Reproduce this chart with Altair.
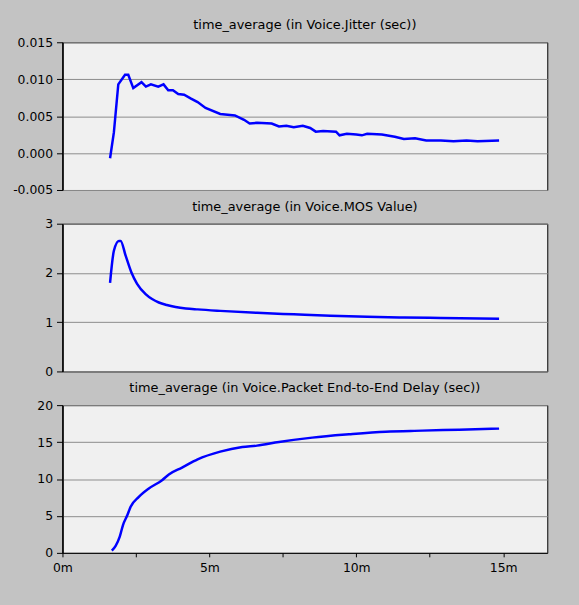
import altair as alt
import pandas as pd

# ---- data (time in minutes) ----
jitter_t = [1.62, 1.75, 1.90, 2.13, 2.24, 2.41, 2.69, 2.84, 3.01, 3.26, 3.44, 3.60, 3.76, 3.94, 4.14,
            4.36, 4.60, 4.87, 5.37, 5.87, 6.18, 6.37, 6.62, 7.12, 7.37, 7.62, 7.87, 8.18, 8.43, 8.62,
            8.87, 9.31, 9.43, 9.68, 10.0, 10.19, 10.37, 10.87, 11.31, 11.62, 12.0, 12.38, 12.88, 13.31,
            13.75, 14.13, 14.86]
jitter_v = [-0.0007, 0.0028, 0.0093, 0.0106, 0.0106, 0.0088, 0.0096, 0.0090, 0.0093, 0.0090, 0.0093,
            0.0085, 0.0085, 0.0080, 0.0079, 0.0074, 0.0069, 0.0061, 0.0053, 0.0051, 0.0045, 0.0040,
            0.0041, 0.0040, 0.0036, 0.0037, 0.0035, 0.0037, 0.0034, 0.0029, 0.0030, 0.0029, 0.0024,
            0.0026, 0.0025, 0.0024, 0.0026, 0.0025, 0.0022, 0.0019, 0.0020, 0.0017, 0.0017, 0.0016,
            0.0017, 0.0016, 0.0017]

mos_t = [1.62, 1.75, 1.92, 1.98, 2.15, 2.34, 2.54, 2.83, 3.05, 3.28, 3.55, 3.85, 4.20, 4.60, 5.37,
         6.62, 7.87, 9.12, 10.37, 11.62, 12.88, 14.86]
mos_v = [1.80, 2.45, 2.65, 2.65, 2.35, 2.02, 1.78, 1.57, 1.47, 1.40, 1.35, 1.31, 1.28, 1.26, 1.23,
         1.19, 1.16, 1.13, 1.11, 1.095, 1.085, 1.07]

delay_t = [1.68, 1.81, 1.95, 2.06, 2.21, 2.32, 2.60, 2.94, 3.39, 3.62, 4.07, 4.60, 5.37, 6.12, 6.62,
           7.37, 8.50, 9.75, 11.0, 12.25, 13.50, 14.86]
delay_v = [0.30, 0.94, 2.19, 3.77, 5.12, 6.24, 7.59, 8.72, 9.84, 10.61, 11.55, 12.67, 13.71, 14.33,
           14.52, 15.01, 15.60, 16.05, 16.41, 16.55, 16.68, 16.82]

titles = ["time_average (in Voice.Jitter (sec))",
          "time_average (in Voice.MOS Value)",
          "time_average (in Voice.Packet End-to-End Delay (sec))"]

x_ticks = [0, 2.5, 5, 7.5, 10, 12.5, 15]

FONT = "DejaVu Sans"


def panel(ts, vs, title, ydomain, yticks, ylabel_expr, show_x, interp):
    df = pd.DataFrame({"t": ts, "v": vs})
    if show_x:
        xaxis = alt.Axis(values=x_ticks, title=None, grid=False, tickSize=4, labelPadding=5,
                         labelExpr="datum.value % 5 == 0 ? datum.value + 'm' : ''",
                         labelFont=FONT, labelFontSize=12.5, labelColor="#000",
                         domainColor="#000", tickColor="#000", labelFlush=False)
    else:
        xaxis = None
    return (
        alt.Chart(df)
        .mark_line(color="#0000ff", strokeWidth=2.5, interpolate=interp)
        .encode(
            x=alt.X("t:Q", scale=alt.Scale(domain=[0, 16.5], nice=False, zero=False), axis=xaxis),
            y=alt.Y("v:Q", scale=alt.Scale(domain=ydomain, nice=False, zero=False),
                    axis=alt.Axis(values=yticks, title=None, grid=True, gridColor="#8c8c8c",
                                  gridOpacity=1, tickSize=6, labelPadding=4,
                                  labelExpr=ylabel_expr, labelFont=FONT, labelFontSize=12.5,
                                  labelColor="#000", domainColor="#000", domainWidth=1.5,
                                  tickColor="#000", minExtent=47, labelFlush=False)),
        )
        .properties(width=489, height=149,
                    title=alt.TitleParams(title, font=FONT, fontSize=13, fontWeight="normal",
                                          color="#000", offset=4, anchor="middle", frame="group"))
    )


p1 = panel(jitter_t, jitter_v, titles[0], [-0.005, 0.015], [-0.005, 0, 0.005, 0.01, 0.015],
           "replace(format(datum.value, '.3f'), '\u2212', '-')", False, "linear")
p2 = panel(mos_t, mos_v, titles[1], [0, 3], [0, 1, 2, 3], "format(datum.value, 'd')", False,
           "monotone")
p3 = panel(delay_t, delay_v, titles[2], [0, 20], [0, 5, 10, 15, 20], "format(datum.value, 'd')",
           True, "monotone")

chart = (
    alt.vconcat(p1, p2, p3, spacing=34, bounds="flush")
    .properties(background="#c3c3c3",
                padding={"left": 12, "top": 16, "right": 31, "bottom": 34})
    .configure_view(fill="#f0f0f0", stroke="#000", strokeWidth=1)
)

chart.save("out.html", embed_options={"renderer": "svg", "actions": False})
